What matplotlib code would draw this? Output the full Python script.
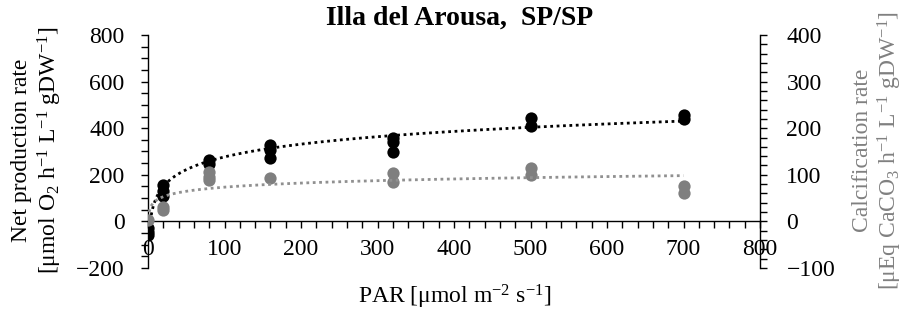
import numpy as np
import matplotlib
matplotlib.use("Agg")
import matplotlib.pyplot as plt
from matplotlib.ticker import MultipleLocator

plt.rcParams['font.family'] = ['Liberation Serif', 'DejaVu Serif']
plt.rcParams['mathtext.fontset'] = 'custom'
plt.rcParams['mathtext.rm'] = 'Liberation Serif'
plt.rcParams['mathtext.it'] = 'Liberation Serif:italic'
plt.rcParams['mathtext.bf'] = 'Liberation Serif:bold'

# Net production (left axis), PAR vs value
np_par = [0, 0, 0, 20, 20, 20, 80, 80, 160, 160, 160, 320, 320, 320, 500, 500, 700, 700]
np_val = [-30, -45, -60, 155, 130, 110, 265, 245, 330, 308, 274, 360, 342, 298, 445, 408, 455, 438]

# Calcification (right axis)
ca_par = [0, 20, 20, 80, 80, 80, 160, 320, 320, 500, 500, 700, 700]
ca_val = [2, 30, 25, 107, 96, 88, 94, 104, 84, 114, 100, 75, 62]

# Logarithmic trend lines: y = a*ln(x) + b
np_trend_a, np_trend_b, np_trend_start = 79.0, -87.0, 3.0
ca_trend_a, ca_trend_b, ca_trend_start = 12.7, 15.0, 1.5
trend_end = 700

title = "Illa del Arousa,  SP/SP"
xlabel = "PAR [μmol m$^{-2}$ s$^{-1}$]"

fig = plt.figure(figsize=(9.09, 3.10), dpi=100)
ax = fig.add_axes([148/909, 1-268/310, (760-148)/909, (268-35)/310])
ax2 = ax.twinx()

ax.set_xlim(0, 800)
ax.set_ylim(-200, 800)
ax2.set_ylim(-100, 400)

ax.scatter(np_par, np_val, s=78, color='black', zorder=3, linewidths=0)
xt = np.linspace(np_trend_start, trend_end, 400)
ax.plot(xt, np_trend_a*np.log(xt) + np_trend_b, color='black', linestyle=(0, (1, 1.3)), lw=2.0, zorder=4)

ax2.scatter(ca_par, ca_val, s=78, color='#7f7f7f', zorder=3, linewidths=0)
xt2 = np.linspace(ca_trend_start, trend_end, 400)
ax2.plot(xt2, ca_trend_a*np.log(xt2) + ca_trend_b, color='#909090', linestyle=(0, (1, 1.3)), lw=2.0, zorder=4)

for a in (ax, ax2):
    a.spines['top'].set_visible(False)
ax.spines['right'].set_visible(False)
ax2.spines['left'].set_visible(False)
ax2.spines['bottom'].set_visible(False)
ax.spines['bottom'].set_position(('data', 0))
for s in ('left', 'bottom'):
    ax.spines[s].set_linewidth(1.0)
ax2.spines['right'].set_linewidth(1.0)

ax.xaxis.set_major_locator(MultipleLocator(100))
ax.xaxis.set_minor_locator(MultipleLocator(20))
ax.yaxis.set_major_locator(MultipleLocator(200))
ax.yaxis.set_minor_locator(MultipleLocator(50))
ax2.yaxis.set_major_locator(MultipleLocator(100))
ax2.yaxis.set_minor_locator(MultipleLocator(20))

ax.tick_params(axis='x', which='both', direction='out', length=5, width=1, labelsize=17, pad=8)
ax.tick_params(axis='y', which='both', direction='out', length=5, width=1, labelsize=17, pad=12)
ax2.tick_params(axis='y', which='both', direction='out', length=5, width=1, labelsize=17, pad=14)

fig.text(460/909, 1-18/310, title, ha='center', va='center', fontsize=20, fontweight='bold')
fig.text(455/909, 1-297/310, xlabel, ha='center', va='center', fontsize=17)
fig.text(22/909, 1-150/310, "Net production rate", rotation=90, ha='center', va='center', fontsize=17)
fig.text(50/909, 1-150/310, "[μmol O$_2$ h$^{-1}$ L$^{-1}$ gDW$^{-1}$]", rotation=90, ha='center', va='center', fontsize=17)
fig.text(862/909, 1-150/310, "Calcification rate", rotation=90, ha='center', va='center', fontsize=17, color='#808080')
fig.text(890/909, 1-150/310, "[μEq CaCO$_3$ h$^{-1}$ L$^{-1}$ gDW$^{-1}$]", rotation=90, ha='center', va='center', fontsize=17, color='#808080')

fig.savefig("out.png", dpi=100)
